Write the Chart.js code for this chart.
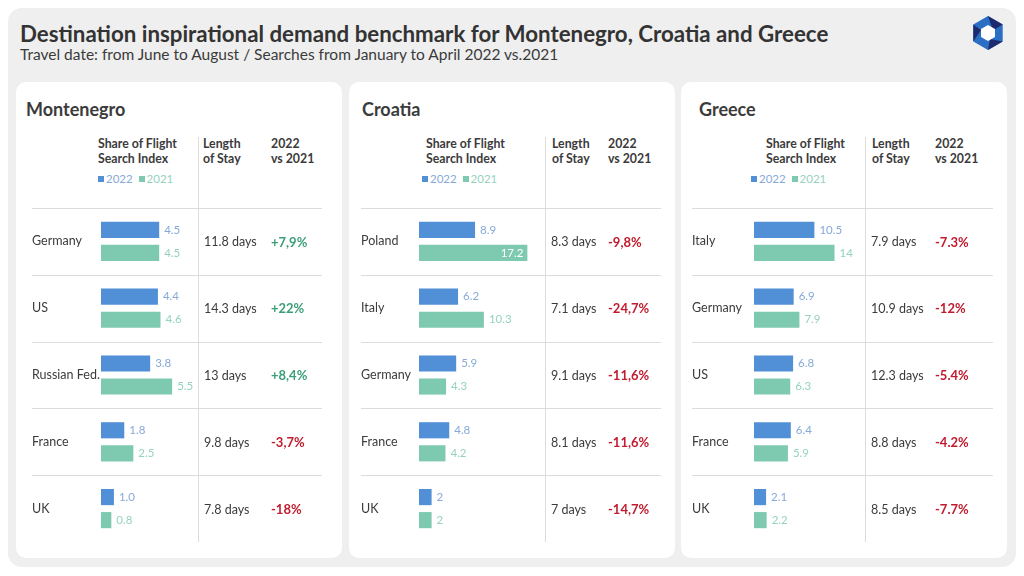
<!DOCTYPE html>
<html>
<head>
<meta charset="utf-8">
<script src="https://cdn.jsdelivr.net/npm/chart.js@4.4.1/dist/chart.umd.min.js"></script>
<style>
  body { margin: 0; width: 1024px; height: 576px; background: #fff; position: relative; overflow: hidden;
         font-family: Lato, "Open Sans", sans-serif; color: #3b3b3b; }
  #bg { position: absolute; left: 8px; top: 8px; width: 1008px; height: 559px; background: #efefef; border-radius: 14px; }
  #title { position: absolute; left: 20px; top: 20px; margin: 0; font-size: 22.3px; font-weight: 700; color: #333; white-space: nowrap; }
  #sub { position: absolute; left: 20px; top: 45px; font-size: 15.5px; color: #3b3b3b; white-space: nowrap; }
  #logo { position: absolute; left: 970px; top: 14px; }
  .card { position: absolute; top: 82px; width: 326px; height: 476px; background: #fff; border-radius: 10px; }
  .card canvas { position: absolute; left: 0; top: 0; }
  .ct { position: absolute; top: 16px; font-size: 18px; font-weight: 700; color: #3b3b3b; }
  .hd { position: absolute; top: 55px; font-size: 12.3px; font-weight: 700; line-height: 14.5px; color: #3b3b3b; white-space: nowrap; }
  .lg { position: absolute; top: 90px; font-size: 11.5px; white-space: nowrap; }
  .lg i { display: inline-block; width: 6px; height: 6px; margin-right: 2px; vertical-align: 1px; }
</style>
</head>
<body>
<div id="bg"></div>
<div id="title">Destination inspirational demand benchmark for Montenegro, Croatia and Greece</div>
<div id="sub">Travel date: from June to August / Searches from January to April 2022 vs.2021</div>
<svg id="logo" width="36" height="38" viewBox="-18 -19 36 38">
  <polygon points="0,-17 14.7,-8.5 14.7,8.5 0,17 -14.7,8.5 -14.7,-8.5" fill="#2b6fc4"/>
  <polygon points="0,-17 14.7,-8.5 5,-2.5" fill="#1d2a6e"/>
  <polygon points="14.7,8.5 0,17 2,6" fill="#1d2a6e"/>
  <polygon points="-14.7,8.5 -14.7,-8.5 -7,-3" fill="#1d2a6e"/>
  <polygon points="0,-8 7,-4 7,4 0,8 -7,4 -7,-4" fill="#fff"/>
</svg>

<div class="card" id="c0"></div>
<div class="card" id="c1"></div>
<div class="card" id="c2"></div>

<script>
/* data */
var years = ["2022", "2021"];

var meCountries = ["Germany", "US", "Russian Fed.", "France", "UK"];
var me2022 = [4.5, 4.4, 3.8, 1.8, 1.0];
var me2021 = [4.5, 4.6, 5.5, 2.5, 0.8];
var meStay = [11.8, 14.3, 13, 9.8, 7.8];
var meChange = ["+7,9%", "+22%", "+8,4%", "-3,7%", "-18%"];

var hrCountries = ["Poland", "Italy", "Germany", "France", "UK"];
var hr2022 = [8.9, 6.2, 5.9, 4.8, 2];
var hr2021 = [17.2, 10.3, 4.3, 4.2, 2];
var hrStay = [8.3, 7.1, 9.1, 8.1, 7];
var hrChange = ["-9,8%", "-24,7%", "-11,6%", "-11,6%", "-14,7%"];

var grCountries = ["Italy", "Germany", "US", "France", "UK"];
var gr2022 = [10.5, 6.9, 6.8, 6.4, 2.1];
var gr2021 = [14, 7.9, 6.3, 5.9, 2.2];
var grStay = [7.9, 10.9, 12.3, 8.8, 8.5];
var grChange = ["-7.3%", "-12%", "-5.4%", "-4.2%", "-7.7%"];

/* styles */
var BLUE = "#5190d6", GREEN = "#7ecab0";
var BLUE_LB = "#86a9d8", GREEN_LB = "#95d2bd";
var POS = "#3a9e78", NEG = "#c11b2d", TXT = "#3b3b3b", LINE = "#dcdcdc";
var FONT = "Lato, 'Open Sans', sans-serif";

var panels = [
  { id: "c0", name: "Montenegro", cats: meCountries, a: me2022, b: me2021, stay: meStay, chg: meChange,
    fixed: true, max: 7.5, titleX: 10, shareX: 82, lenX: 187, yoyX: 255, legX: 82,
    padL: 16, axisW: 69, padR: 144, lineR: 20, pctOff: 73 },
  { id: "c1", name: "Croatia", cats: hrCountries, a: hr2022, b: hr2021, stay: hrStay, chg: hrChange,
    fixed: false, max: 20, titleX: 13, shareX: 77, lenX: 203, yoyX: 259, legX: 73,
    padL: 12, axisW: 58, padR: 130, lineR: 14, pctOff: 63 },
  { id: "c2", name: "Greece", cats: grCountries, a: gr2022, b: gr2021, stay: grStay, chg: grChange,
    fixed: false, max: 19.3, titleX: 18, shareX: 85, lenX: 191, yoyX: 254, legX: 70,
    padL: 11, axisW: 62, padR: 142, lineR: 14, pctOff: 70 }
];

var cardLeft = [16, 349, 681];

function fmt(v, fixed) { return fixed ? v.toFixed(1) : String(v); }

panels.forEach(function(p, k) {
  var card = document.getElementById(p.id);
  card.style.left = cardLeft[k] + "px";
  card.innerHTML =
    '<div class="ct" style="left:' + p.titleX + 'px">' + p.name + '</div>' +
    '<div class="hd" style="left:' + p.shareX + 'px">Share of Flight<br>Search Index</div>' +
    '<div class="hd" style="left:' + p.lenX + 'px">Length<br>of Stay</div>' +
    '<div class="hd" style="left:' + p.yoyX + 'px">2022<br>vs 2021</div>' +
    '<div class="lg" style="left:' + p.legX + 'px"><i style="background:' + BLUE + '"></i><span style="color:' + BLUE_LB + '">' + years[0] +
    '</span>&nbsp;&nbsp;<i style="background:' + GREEN + '"></i><span style="color:' + GREEN_LB + '">' + years[1] + '</span></div>';

  var cv = document.createElement("canvas");
  cv.width = 326; cv.height = 476;
  cv.style.width = "326px"; cv.style.height = "476px";
  card.appendChild(cv);

  new Chart(cv, {
    type: "bar",
    data: {
      labels: p.cats,
      datasets: [
        { label: years[0], data: p.a, backgroundColor: BLUE, categoryPercentage: 0.69, barPercentage: 0.7 },
        { label: years[1], data: p.b, backgroundColor: GREEN, categoryPercentage: 0.69, barPercentage: 0.7 }
      ]
    },
    options: {
      indexAxis: "y",
      responsive: false,
      animation: false,
      layout: { padding: { left: p.padL, right: p.padR, top: 126, bottom: 16 } },
      scales: {
        x: { display: false, min: 0, max: p.max },
        y: {
          grid: { display: false },
          border: { display: false },
          afterFit: function(s) { s.width = p.axisW; },
          ticks: { crossAlign: "far", padding: 0, color: TXT, font: { size: 12.5, family: FONT } }
        }
      },
      plugins: { legend: { display: false }, tooltip: { enabled: false } }
    },
    plugins: [{
      id: "tbl",
      beforeDatasetsDraw: function(ch) {
        var c = ch.ctx, a = ch.chartArea, ys = ch.scales.y;
        var step = ys.getPixelForValue(1) - ys.getPixelForValue(0);
        c.save();
        c.strokeStyle = LINE; c.lineWidth = 1;
        p.cats.forEach(function(d, i) {
          var y = Math.round(ys.getPixelForValue(i) - step / 2) + 0.5;
          c.beginPath(); c.moveTo(p.padL, y); c.lineTo(ch.width - p.lineR, y); c.stroke();
        });
        var vx = Math.round(a.right) + 0.5;
        c.beginPath(); c.moveTo(vx, 55); c.lineTo(vx, a.bottom); c.stroke();
        c.textBaseline = "middle"; c.textAlign = "left";
        p.cats.forEach(function(d, i) {
          var y = ys.getPixelForValue(i) + 1;
          c.fillStyle = TXT; c.font = "12.5px " + FONT;
          c.fillText(fmt(p.stay[i], false) + " days", a.right + 6, y);
          c.fillStyle = p.chg[i].charAt(0) === "+" ? POS : NEG;
          c.font = "bold 13px " + FONT;
          c.fillText(p.chg[i], a.right + p.pctOff, y);
        });
        c.restore();
      },
      afterDatasetsDraw: function(ch) {
        var c = ch.ctx, a = ch.chartArea;
        c.save();
        c.font = "11.5px " + FONT;
        c.textBaseline = "middle";
        ch.data.datasets.forEach(function(ds, di) {
          ch.getDatasetMeta(di).data.forEach(function(bar, i) {
            var t = fmt(ds.data[i], p.fixed);
            var w = c.measureText(t).width;
            if (bar.x + 5 + w > a.right - 2) {
              c.fillStyle = "#fff"; c.textAlign = "right";
              c.fillText(t, bar.x - 4, bar.y);
            } else {
              c.fillStyle = di === 0 ? BLUE_LB : GREEN_LB; c.textAlign = "left";
              c.fillText(t, bar.x + 5, bar.y);
            }
          });
        });
        c.restore();
      }
    }]
  });
});
</script>
</body>
</html>
